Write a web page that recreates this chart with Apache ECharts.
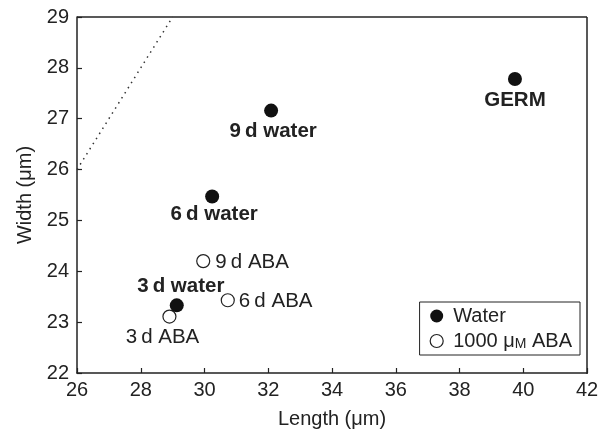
<!DOCTYPE html>
<html><head><meta charset="utf-8">
<script src="https://cdn.jsdelivr.net/npm/echarts@6/dist/echarts.min.js"></script>
<style>html,body{margin:0;padding:0;background:#fff}#c{width:603px;height:434px}</style>
</head><body><div id="c"></div>
<script>
const xTicks = [26, 28, 30, 32, 34, 36, 38, 40, 42];
const yTicks = [22, 23, 24, 25, 26, 27, 28, 29];
const waterNames = ['3d water', '6d water', '9d water', 'GERM'];
const waterLength = [29.13, 30.24, 32.09, 39.74];
const waterWidth = [23.33, 25.47, 27.16, 27.78];
const abaNames = ['3d ABA', '6d ABA', '9d ABA'];
const abaLength = [28.9, 30.73, 29.96];
const abaWidth = [23.11, 23.43, 24.2];
const refLine = [[26, 26], [29, 29]];

const F = 'Liberation Sans, Arial, Helvetica, sans-serif';
const labelStyle = {
  '3d water': {position: 'top', offset: [4, 3], fontWeight: 'bold'},
  '6d water': {position: 'bottom', offset: [2, -5], fontWeight: 'bold'},
  '9d water': {position: 'bottom', offset: [2, -2], fontWeight: 'bold'},
  'GERM': {position: 'bottom', offset: [0, -1], fontWeight: 'bold'},
  '3d ABA': {position: 'bottom', offset: [-7, -2]},
  '6d ABA': {position: 'right', offset: [-1, 1]},
  '9d ABA': {position: 'right', offset: [0, 1]}
};
function mk(names, xs, ys) {
  return names.map((n, i) => ({
    name: n, value: [xs[i], ys[i]],
    label: Object.assign({show: true, formatter: n.replace(/^(\d)d /, '$1\u2009d '), fontFamily: F, fontSize: 20.5, color: '#222', distance: 5}, labelStyle[n])
  }));
}
const chart = echarts.init(document.getElementById('c'), null, {renderer: 'canvas'});
chart.setOption({
  animation: false,
  backgroundColor: '#fff',
  grid: {left: 77, right: 16, top: 17, bottom: 60, show: false},
  xAxis: {
    type: 'value', min: xTicks[0], max: xTicks[xTicks.length - 1], interval: 2,
    name: 'Length (\u03bcm)', nameLocation: 'middle', nameGap: 36,
    nameTextStyle: {fontFamily: F, fontSize: 20, color: '#222'},
    axisLine: {show: true, lineStyle: {color: '#222', width: 1.5}},
    axisTick: {show: true, inside: true, length: 5, lineStyle: {color: '#222', width: 1.2}},
    axisLabel: {fontFamily: F, fontSize: 20, color: '#222', margin: 7},
    splitLine: {show: false}
  },
  yAxis: {
    type: 'value', min: yTicks[0], max: yTicks[yTicks.length - 1], interval: 1,
    name: 'Width (\u03bcm)', nameLocation: 'middle', nameGap: 42, nameRotate: 90,
    nameTextStyle: {fontFamily: F, fontSize: 20, color: '#222'},
    axisLine: {show: true, lineStyle: {color: '#222', width: 1.5}},
    axisTick: {show: true, inside: true, length: 5, lineStyle: {color: '#222', width: 1.2}},
    axisLabel: {fontFamily: F, fontSize: 20, color: '#222', margin: 8},
    splitLine: {show: false}
  },
  legend: {
    right: 23, bottom: 79, orient: 'vertical', itemGap: 5, itemWidth: 13, itemHeight: 13,
    padding: [4, 8, 4, 10],
    borderColor: '#222', borderWidth: 1, backgroundColor: '#fff',
    textStyle: {fontFamily: F, fontSize: 20, color: '#222', lineHeight: 20, padding: [0, 0, 0, 5],
      rich: {s: {fontFamily: F, fontSize: 14, color: '#222', lineHeight: 16, verticalAlign: 'bottom'}, n: {fontFamily: F, fontSize: 20, color: '#222', lineHeight: 20}}},
    formatter: function (n) { return n === 'Water' ? 'Water' : '{n|1000 \u03bc}{s|M}{n| ABA}'; },
    data: [
      {name: 'Water', icon: 'circle', itemStyle: {color: '#111', borderColor: '#111'}},
      {name: '1000 \u03bcM ABA', icon: 'circle', itemStyle: {color: '#fff', borderColor: '#222', borderWidth: 1.2}}
    ]
  },
  series: [
    {type: 'line', data: refLine, symbol: 'none', silent: true,
     lineStyle: {color: '#333', width: 1.5, type: [1.5, 4.5]}, z: 1},
    {type: 'scatter', name: 'Water', data: mk(waterNames, waterLength, waterWidth),
     symbolSize: 14, itemStyle: {color: '#111', borderColor: '#111', borderWidth: 0, opacity: 1}, z: 3},
    {type: 'scatter', name: '1000 \u03bcM ABA', data: mk(abaNames, abaLength, abaWidth),
     symbolSize: 13, itemStyle: {color: '#fff', borderColor: '#222', borderWidth: 1.2, opacity: 1}, z: 2}
  ],
  graphic: [
    {type: 'line', shape: {x1: 77, y1: 17, x2: 587, y2: 17}, style: {stroke: '#222', lineWidth: 1.5}},
    {type: 'line', shape: {x1: 587, y1: 17, x2: 587, y2: 374}, style: {stroke: '#222', lineWidth: 1.5}}
  ]
});
</script></body></html>
